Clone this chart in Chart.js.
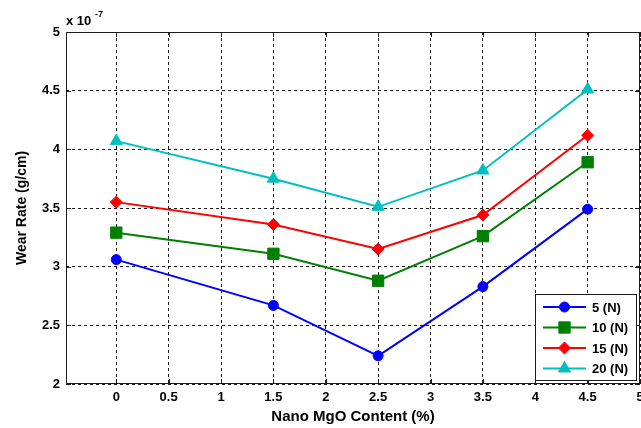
<!DOCTYPE html>
<html>
<head>
<meta charset="utf-8">
<script src="https://cdn.jsdelivr.net/npm/chart.js@4.4.1/dist/chart.umd.min.js"></script>
<style>
  html, body { margin: 0; padding: 0; background: #fff; }
  #wrap { width: 641px; height: 428px; }
</style>
</head>
<body>
<div id="wrap"><canvas id="wearChart" width="641" height="428"></canvas></div>
<script>
// Nano MgO content (%) along x
const mgoContent = [0, 1.5, 2.5, 3.5, 4.5];

// Wear rate in units of 1e-7 g/cm, one array per load
const load5N = [3.06, 2.67, 2.24, 2.83, 3.49];
const load10N = [3.29, 3.11, 2.88, 3.26, 3.89];
const load15N = [3.55, 3.36, 3.15, 3.44, 4.12];
const load20N = [4.07, 3.75, 3.51, 3.82, 4.51];

const seriesLabels = ['5 (N)', '10 (N)', '15 (N)', '20 (N)'];
const xTickValues = [0, 0.5, 1, 1.5, 2, 2.5, 3, 3.5, 4, 4.5, 5];
const yTickValues = [2, 2.5, 3, 3.5, 4, 4.5, 5];

const FONT = "'Liberation Sans', Arial, sans-serif";
const INK = '#1a1a1a';

function toPoints(values) {
    return mgoContent.map((x, i) => ({ x: x, y: values[i] }));
}

function makeDataset(label, values, color, style, radius) {
    return {
        label: label,
        data: toPoints(values),
        borderColor: color,
        backgroundColor: color,
        borderWidth: 2,
        tension: 0,
        pointStyle: style,
        pointRadius: radius,
        pointHoverRadius: radius,
        pointBorderWidth: 1,
        pointBackgroundColor: color,
        pointBorderColor: color
    };
}

// Box round the plot, inner tick marks, "x 10^-7" and the legend
const matlabFrame = {
    id: 'matlabFrame',
    afterDraw(chart) {
        const ctx = chart.ctx;
        const area = chart.chartArea;
        const xs = chart.scales.x;
        const ys = chart.scales.y;
        const tick = 5;

        ctx.save();
        ctx.strokeStyle = INK;
        ctx.lineWidth = 1;
        ctx.setLineDash([]);
        ctx.strokeRect(area.left + 0.5, area.top + 0.5, area.right - area.left - 1, area.bottom - area.top - 1);

        ctx.beginPath();
        xTickValues.forEach(v => {
            const px = Math.round(xs.getPixelForValue(v)) + 0.5;
            ctx.moveTo(px, area.bottom);
            ctx.lineTo(px, area.bottom - tick);
            ctx.moveTo(px, area.top);
            ctx.lineTo(px, area.top + tick);
        });
        yTickValues.forEach(v => {
            const py = Math.round(ys.getPixelForValue(v)) + 0.5;
            ctx.moveTo(area.left, py);
            ctx.lineTo(area.left + tick, py);
            ctx.moveTo(area.right, py);
            ctx.lineTo(area.right - tick, py);
        });
        ctx.stroke();

        // exponent label
        ctx.fillStyle = '#000';
        ctx.textBaseline = 'alphabetic';
        ctx.textAlign = 'left';
        ctx.font = 'bold 13px ' + FONT;
        ctx.fillText('x 10', area.left, area.top - 7);
        ctx.font = 'bold 9px ' + FONT;
        ctx.fillText('-7', area.left + 29, area.top - 15);

        // legend box in the lower right corner
        const boxW = 101, boxH = 86;
        const bx = area.right - 4 - boxW;
        const by = area.bottom - 4 - boxH;
        ctx.fillStyle = '#fff';
        ctx.fillRect(bx, by, boxW, boxH);
        ctx.strokeStyle = INK;
        ctx.strokeRect(bx + 0.5, by + 0.5, boxW, boxH);

        ctx.font = 'bold 13px ' + FONT;
        ctx.textBaseline = 'middle';
        chart.data.datasets.forEach((ds, i) => {
            const rowY = by + 13 + i * 20.5;
            const x0 = bx + 8;
            const x1 = bx + 51;
            ctx.strokeStyle = ds.borderColor;
            ctx.lineWidth = 2;
            ctx.beginPath();
            ctx.moveTo(x0, rowY);
            ctx.lineTo(x1, rowY);
            ctx.stroke();
            ctx.fillStyle = ds.backgroundColor;
            ctx.lineWidth = 1;
            Chart.helpers.drawPoint(ctx, {
                pointStyle: ds.pointStyle,
                radius: ds.pointRadius,
                rotation: 0,
                borderWidth: 1
            }, (x0 + x1) / 2, rowY);
            ctx.fillStyle = '#000';
            ctx.fillText(ds.label, bx + 57, rowY + 1);
        });
        ctx.restore();
    }
};

function renderChart() {
    const ctx = document.getElementById('wearChart').getContext('2d');

    const datasets = [
        makeDataset(seriesLabels[0], load5N, '#0000ff', 'circle', 5),
        makeDataset(seriesLabels[1], load10N, '#008000', 'rect', 8),
        makeDataset(seriesLabels[2], load15N, '#ff0000', 'rectRot', 6),
        makeDataset(seriesLabels[3], load20N, '#00bfbf', 'triangle', 7)
    ];

    const gridOpts = {
        color: INK,
        lineWidth: 1,
        drawTicks: false
    };

    new Chart(ctx, {
        type: 'line',
        data: { datasets: datasets },
        options: {
            responsive: false,
            animation: false,
            layout: {
                autoPadding: false,
                padding: { top: 32, right: 1, left: 0, bottom: 0 }
            },
            plugins: {
                legend: { display: false },
                tooltip: { enabled: false }
            },
            scales: {
                x: {
                    type: 'linear',
                    min: -0.48,
                    max: 5,
                    afterBuildTicks: axis => {
                        axis.ticks = xTickValues.map(v => ({ value: v }));
                    },
                    // the "5" label is allowed to run off the right edge, as in the original
                    afterFit: scale => {
                        scale.height = 44;
                        scale.paddingLeft = 0;
                        scale.paddingRight = 0;
                    },
                    grid: gridOpts,
                    border: { display: false, dash: [3, 3] },
                    ticks: {
                        color: '#000',
                        font: { family: FONT, size: 13, weight: 'bold' },
                        padding: 6,
                        maxRotation: 0,
                        autoSkip: false,
                        callback: v => String(v)
                    },
                    title: {
                        display: true,
                        text: 'Nano MgO Content (%)',
                        color: '#000',
                        font: { family: FONT, size: 15, weight: 'bold' },
                        padding: { top: 0, bottom: 2 }
                    }
                },
                y: {
                    type: 'linear',
                    min: 2,
                    max: 5,
                    afterBuildTicks: axis => {
                        axis.ticks = yTickValues.map(v => ({ value: v }));
                    },
                    afterFit: scale => {
                        scale.width = 66;
                        scale.paddingTop = 0;
                        scale.paddingBottom = 0;
                    },
                    grid: gridOpts,
                    border: { display: false, dash: [3, 3] },
                    ticks: {
                        color: '#000',
                        font: { family: FONT, size: 13, weight: 'bold' },
                        padding: 6,
                        callback: v => String(v)
                    },
                    title: {
                        display: true,
                        text: 'Wear Rate (g/cm)',
                        color: '#000',
                        font: { family: FONT, size: 14, weight: 'bold' },
                        padding: { top: 14, bottom: 0 }
                    }
                }
            }
        },
        plugins: [matlabFrame]
    });
}

document.addEventListener('DOMContentLoaded', renderChart);
</script>
</body>
</html>
